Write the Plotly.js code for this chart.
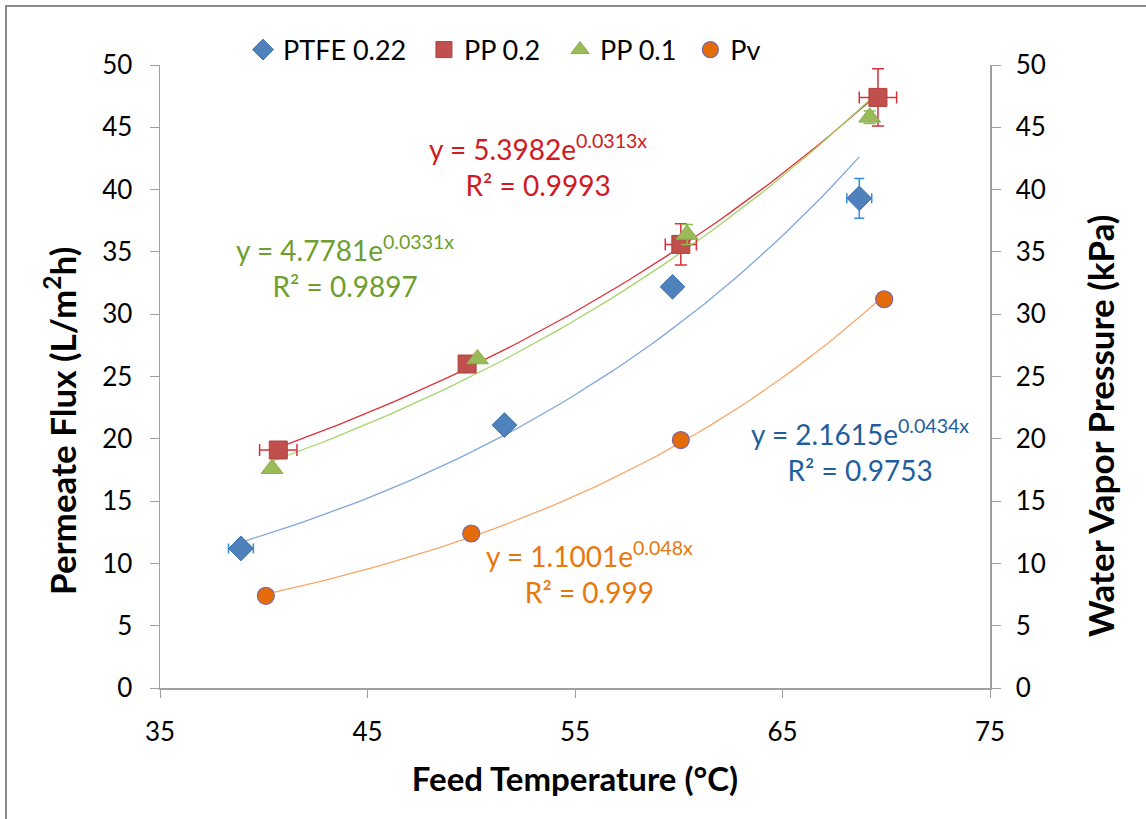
<!DOCTYPE html>
<html><head><meta charset="utf-8">
<script src="https://cdn.plot.ly/plotly-3.0.1.min.js"></script>
<style>html,body{margin:0;padding:0;background:#fff;}#frame{position:absolute;left:5px;top:5px;width:1200px;height:900px;border:2px solid #8a8a8a;box-sizing:border-box;pointer-events:none;z-index:5}</style>
</head><body>
<div id="chart" style="width:1146px;height:819px;"></div>
<div id="frame"></div>
<script>
// Data
const ptfeX = [38.9, 51.6, 59.7, 68.7];
const ptfeY = [11.2, 21.1, 32.2, 39.3];
const ptfeXErr = [0.6, 0, 0, 0.6];
const ptfeYErr = [0, 0, 0, 1.6];

const pp2X = [40.7, 49.8, 60.1, 69.6];
const pp2Y = [19.1, 26.0, 35.6, 47.4];
const pp2XErr = [0.9, 0, 0.75, 0.9];
const pp2YErr = [0, 0, 1.65, 2.3];

const pp1X = [40.4, 50.3, 60.4, 69.2];
const pp1Y = [17.6, 26.4, 36.4, 45.8];
const pp1YErr = [0, 0, 0.8, 0.5];

const pvX = [40.1, 50.0, 60.1, 69.9];
const pvY = [7.4, 12.4, 19.9, 31.2];

const xTicks = [35, 45, 55, 65, 75];

// Exponential trendline coefficients (y = a e^{bx}) as printed on the chart
const fitA = {ptfe: 2.1615, pp2: 5.3982, pp1: 4.7781, pv: 1.1001};
const fitB = {ptfe: 0.0434, pp2: 0.0313, pp1: 0.0331, pv: 0.048};
const fitR2 = {ptfe: '0.9753', pp2: '0.9993', pp1: '0.9897', pv: '0.999'};
const fitBLabel = {ptfe: '0.0434', pp2: '0.0313', pp1: '0.0331', pv: '0.048'};

function curve(xs, a, b) {
  const x0 = xs[0], x1 = xs[xs.length - 1];
  const X = [], Y = [];
  for (let i = 0; i <= 60; i++) { const x = x0 + (x1 - x0) * i / 60; X.push(x); Y.push(a * Math.exp(b * x)); }
  return {X, Y};
}

const FONT = 'Lato, "Open Sans", sans-serif';
const cBlue = '#4F81BD', cRed = '#C0504D', cGreen = '#9BBB59', cOrange = '#E36C09';

function trend(xs, key, color) {
  const c = curve(xs, fitA[key], fitB[key]);
  return {x: c.X, y: c.Y, mode: 'lines', line: {color: color, width: 1.3}, showlegend: false, hoverinfo: 'skip'};
}

const traces = [
  trend(ptfeX, 'ptfe', '#7FA7DA'),
  trend(pp2X, 'pp2', '#E0303A'),
  trend(pp1X, 'pp1', '#A6D46A'),
  trend(pvX, 'pv', '#F6A868'),
  {x: ptfeX, y: ptfeY, name: 'PTFE 0.22', mode: 'markers', type: 'scatter', legend: 'legend',
   marker: {symbol: 'diamond', size: 19, color: cBlue, line: {color: '#3F71AD', width: 1}},
   error_x: {type: 'data', array: ptfeXErr, visible: true, color: '#2F8FDD', thickness: 1.5, width: 5},
   error_y: {type: 'data', array: ptfeYErr, visible: true, color: '#2F8FDD', thickness: 1.5, width: 5}},
  {x: pp2X, y: pp2Y, name: 'PP 0.2', mode: 'markers', type: 'scatter', legend: 'legend2',
   marker: {symbol: 'square', size: 18, color: cRed, line: {color: '#B0403D', width: 1}},
   error_x: {type: 'data', array: pp2XErr, visible: true, color: '#D8303A', thickness: 1.5, width: 6},
   error_y: {type: 'data', array: pp2YErr, visible: true, color: '#D8303A', thickness: 1.5, width: 6}},
  {x: pp1X, y: pp1Y, name: 'PP 0.1', mode: 'markers', type: 'scatter', legend: 'legend3',
   marker: {symbol: 'triangle-up', size: 19, color: cGreen, line: {color: '#8BAB49', width: 1}},
   error_y: {type: 'data', array: pp1YErr, visible: true, color: '#8DBF4A', thickness: 1.5, width: 6}},
  {x: pvX, y: pvY, name: 'Pv', mode: 'markers', type: 'scatter', yaxis: 'y2', legend: 'legend4',
   marker: {symbol: 'circle', size: 17, color: cOrange, line: {color: '#8064A2', width: 1.2}}}
];

function eqText(key) {
  return 'y = ' + fitA[key].toFixed(4).replace(/0+$/, '') + 'e<sup>' + fitBLabel[key] + 'x</sup><br>R² = ' + fitR2[key];
}

function ann(key, x, y, color) {
  return {xref: 'paper', yref: 'paper', x: x, y: y, xanchor: 'center', yanchor: 'middle', showarrow: false,
    text: eqText(key), align: 'center', font: {family: FONT, size: 28, color: color}};
}

function leg(x) {
  return {orientation: 'h', x: x, xanchor: 'left', y: 1.024, yanchor: 'middle', bgcolor: 'rgba(0,0,0,0)',
          font: {family: FONT, size: 27, color: '#000'}, itemwidth: 30};
}

const axisCommon = {showgrid: false, zeroline: false, showline: true, linecolor: '#A0A0A0',
  ticks: 'outside', tickcolor: '#A0A0A0', tickfont: {family: FONT, size: 26}};

const layout = {
  width: 1146, height: 819,
  margin: {l: 160, r: 156, t: 65, b: 131},
  paper_bgcolor: '#fff', plot_bgcolor: '#fff',
  font: {family: FONT, size: 26, color: '#000'},
  showlegend: true,
  legend: leg(0.100), legend2: leg(0.318), legend3: leg(0.482), legend4: leg(0.639),
  xaxis: Object.assign({}, axisCommon, {range: [35, 75], tickvals: xTicks, linewidth: 2, ticklen: 8,
          ticklabelstandoff: 12,
          title: {text: '<b>Feed Temperature (°C)</b>', font: {family: FONT, size: 33}, standoff: 22}}),
  yaxis: Object.assign({}, axisCommon, {range: [0, 50], dtick: 5, linewidth: 1.5, ticklen: 9, ticklabelstandoff: 12}),
  yaxis2: Object.assign({}, axisCommon, {range: [0, 50], dtick: 5, overlaying: 'y', side: 'right',
          linewidth: 1.5, ticklen: 9, ticklabelstandoff: 10}),
  annotations: [
    ann('pp2', 0.455, 0.838, '#D01A22'),
    ann('pp1', 0.223, 0.676, '#6E9E2E'),
    ann('ptfe', 0.843, 0.382, '#1F5F9F'),
    ann('pv', 0.518, 0.186, '#E8780E'),
    {xref: 'paper', yref: 'paper', x: -0.1205, y: 0.4286, xanchor: 'center', yanchor: 'middle', showarrow: false,
     textangle: -90, text: '<b>Permeate Flux (L/m<sup>2</sup>h)</b>', font: {family: FONT, size: 35, color: '#000'}},
    {xref: 'paper', yref: 'paper', x: 1.1325, y: 0.422, xanchor: 'center', yanchor: 'middle', showarrow: false,
     textangle: -90, text: '<b>Water Vapor Pressure (kPa)</b>', font: {family: FONT, size: 35, color: '#000'}}
  ]
};

Plotly.newPlot('chart', traces, layout, {displayModeBar: false, staticPlot: true});
</script>
</body></html>
